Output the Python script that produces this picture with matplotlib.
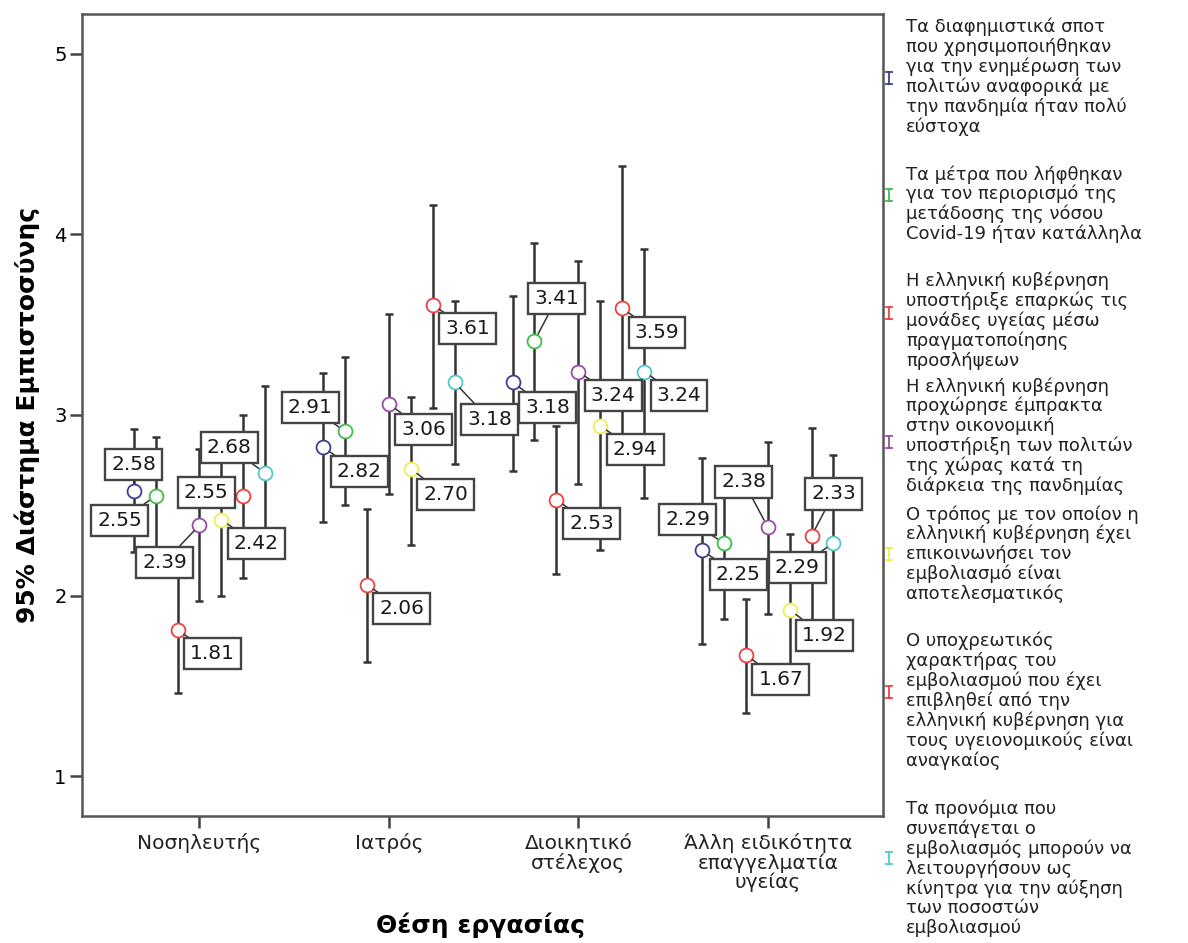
import numpy as np
import matplotlib.pyplot as plt
from matplotlib.lines import Line2D

plt.rcParams['font.family'] = ['DejaVu Sans']

# job positions on the x axis
groups = ['Νοσηλευτής', 'Ιατρός', 'Διοικητικό\nστέλεχος',
          'Άλλη ειδικότητα\nεπαγγελματία\nυγείας']

# statement texts (legend)
statements = [
    'Τα διαφημιστικά σποτ\nπου χρησιμοποιήθηκαν\nγια την ενημέρωση των\nπολιτών αναφορικά με\nτην πανδημία ήταν πολύ\nεύστοχα',
    'Τα μέτρα που λήφθηκαν\nγια τον περιορισμό της\nμετάδοσης της νόσου\nCovid-19 ήταν κατάλληλα',
    'Η ελληνική κυβέρνηση\nυποστήριξε επαρκώς τις\nμονάδες υγείας μέσω\nπραγματοποίησης\nπροσλήψεων',
    'Η ελληνική κυβέρνηση\nπροχώρησε έμπρακτα\nστην οικονομική\nυποστήριξη των πολιτών\nτης χώρας κατά τη\nδιάρκεια της πανδημίας',
    'Ο τρόπος με τον οποίον η\nελληνική κυβέρνηση έχει\nεπικοινωνήσει τον\nεμβολιασμό είναι\nαποτελεσματικός',
    'Ο υποχρεωτικός\nχαρακτήρας του\nεμβολιασμού που έχει\nεπιβληθεί από την\nελληνική κυβέρνηση για\nτους υγειονομικούς είναι\nαναγκαίος',
    'Τα προνόμια που\nσυνεπάγεται ο\nεμβολιασμός μπορούν να\nλειτουργήσουν ως\nκίνητρα για την αύξηση\nτων ποσοστών\nεμβολιασμού',
]
colors = ['#3c3c9a', '#3fbf4a', '#f04040', '#9a4aa8', '#eeee55', '#f04040', '#50c8c8']

# means per statement (rows) and job position (columns)
means = np.array([
    [2.58, 2.82, 3.18, 2.25],
    [2.55, 2.91, 3.41, 2.29],
    [1.81, 2.06, 2.53, 1.67],
    [2.39, 3.06, 3.24, 2.38],
    [2.42, 2.70, 2.94, 1.92],
    [2.55, 3.61, 3.59, 2.33],
    [2.68, 3.18, 3.24, 2.29],
])
ci_low = np.array([
    [2.24, 2.41, 2.69, 1.73],
    [2.22, 2.50, 2.86, 1.87],
    [1.46, 1.63, 2.12, 1.35],
    [1.97, 2.56, 2.62, 1.90],
    [2.00, 2.28, 2.25, 1.50],
    [2.10, 3.04, 2.80, 1.73],
    [2.21, 2.73, 2.54, 1.80],
])
ci_high = np.array([
    [2.92, 3.23, 3.66, 2.76],
    [2.88, 3.32, 3.95, 2.71],
    [2.16, 2.48, 2.94, 1.98],
    [2.81, 3.56, 3.85, 2.85],
    [2.84, 3.10, 3.63, 2.34],
    [3.00, 4.16, 4.38, 2.93],
    [3.16, 3.63, 3.92, 2.78],
])

# where each value label sits relative to its marker (pixels, x right / y up)
label_offsets = [
    [(0, 26), (36, -24), (35, -25), (36, -24)],
    [(-36, -24), (-35, 24), (22, 42), (-36, 24)],
    [(35, -24), (35, -24), (35, -24), (35, -24)],
    [(-35, -37), (35, -25), (35, -24), (-24, 45)],
    [(35, -24), (35, -25), (35, -24), (35, -25)],
    [(-37, 4), (35, -24), (35, -24), (22, 42)],
    [(-36, 25), (35, -37), (35, -24), (-36, -24)],
]

fig = plt.figure(figsize=(11.88, 9.43), dpi=100)
ax = fig.add_axes([0.069, 0.1347, 0.6745, 0.8505])

step = 0.1156
xg = np.arange(1, len(groups) + 1)
for i, c in enumerate(colors):
    x = xg + (i - 3) * step
    ax.errorbar(x, means[i], yerr=[means[i] - ci_low[i], ci_high[i] - means[i]],
                fmt='none', ecolor='#333333', elinewidth=1.8, capsize=3,
                capthick=1.8, zorder=2)
    ax.plot(x, means[i], 'o', ms=10, mfc='white', mec=c, mew=1.3, zorder=3)
    for j in range(len(groups)):
        ax.annotate(f'{means[i, j]:.2f}', (x[j], means[i, j]),
                    xytext=label_offsets[i][j], textcoords='offset pixels',
                    ha='center', va='center', fontsize=14.5, zorder=5,
                    color='#1a1a1a',
                    bbox=dict(boxstyle='square,pad=0.3', fc='white',
                              ec='#444444', lw=1.7),
                    arrowprops=dict(arrowstyle='-', color='#333333', lw=1.1,
                                    shrinkA=0, shrinkB=5.5))

ax.set_xlim(0.38, 4.61)
ax.set_ylim(0.78, 5.22)
ax.set_xticks(xg)
ax.set_xticklabels(groups, fontsize=14.5, color='#222222', linespacing=1.0)
ax.set_yticks([1, 2, 3, 4, 5])
ax.tick_params(axis='y', length=9, width=1.8, color='#444444', labelsize=14,
               pad=2)
ax.tick_params(axis='x', length=8.5, width=1.8, color='#444444', pad=4)
for s in ax.spines.values():
    s.set_color('#555555')
    s.set_linewidth(1.8)

ax.set_ylabel('95% Διάστημα Εμπιστοσύνης', fontsize=18, fontweight='bold')
ax.yaxis.set_label_coords(-0.052, 0.5)
ax.set_xlabel('Θέση εργασίας', fontsize=18, fontweight='bold')
ax.xaxis.set_label_coords(0.497, -0.136)
ax.xaxis.label.set_va('center')

# legend drawn in figure pixels
lay = fig.add_axes([0, 0, 1, 1], facecolor='none')
lay.set_xlim(0, 1188)
lay.set_ylim(943, 0)
lay.axis('off')
icon_y = [78, 195, 313, 442, 554, 692, 858]
text_top = [18, 165, 272, 377, 505, 632, 800]
for c, txt, iy, ty in zip(colors, statements, icon_y, text_top):
    lay.add_line(Line2D([889, 889], [iy - 6, iy + 6], color=c, lw=1.3))
    lay.add_line(Line2D([886, 892], [iy - 6, iy - 6], color=c, lw=1.3))
    lay.add_line(Line2D([886, 892], [iy + 6, iy + 6], color=c, lw=1.3))
    lay.text(906, ty, txt, ha='left', va='top', fontsize=13,
             color='#222222', linespacing=1.1)

fig.savefig('out.png', dpi=100, facecolor='white')
